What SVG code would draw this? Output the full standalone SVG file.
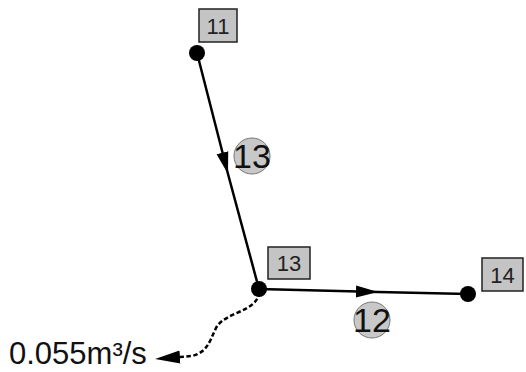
<svg xmlns="http://www.w3.org/2000/svg" width="526" height="372" viewBox="0 0 526 372">
<style>
.edge{fill:none;stroke:#000;stroke-width:2.5}
.flow{fill:none;stroke:#000;stroke-width:2.5;stroke-dasharray:4.5 2.5}
.dot{fill:#000}
.box{fill:#c4c4c4;stroke:#222;stroke-width:1.5}
.boxt{font-family:"Liberation Sans",Arial,sans-serif;font-size:22px;fill:#222;text-anchor:middle}
.lbl{fill:#c8c8c8;stroke:#777;stroke-width:1}
.lblt{font-family:"Liberation Sans",Arial,sans-serif;font-size:34px;fill:#111;text-anchor:middle}
.flowt{font-family:"Liberation Sans",Arial,sans-serif;font-size:31px;fill:#111}
</style>
<defs>
<marker id="arr" markerUnits="userSpaceOnUse" markerWidth="26" markerHeight="16" viewBox="0 -8 26 16" refX="22" refY="0" orient="auto">
<path d="M0,-6 L22,0 L0,6 z" fill="#000"/>
</marker>
<marker id="arrEnd" markerUnits="userSpaceOnUse" markerWidth="28" markerHeight="16" viewBox="0 -8 28 16" refX="0" refY="0" orient="auto">
<path d="M0,-6.5 L25,0 L0,6.5 z" fill="#000"/>
</marker>
</defs>
<g id="connectors">
<path class="edge" d="M197,53 L228,174 L259,289" marker-mid="url(#arr)"/>
<path class="edge" d="M259,289 L378,292 L468,294" marker-mid="url(#arr)"/>
<path class="flow" d="M259,292 C258,312 224,312 216,328 C209,343 207,352 192,356 L180,357" marker-end="url(#arrEnd)"/>
</g>
<g id="edge-label-13">
<circle class="lbl" cx="252" cy="156" r="18"/>
<text class="lblt" x="252" y="168">13</text>
</g>
<g id="edge-label-12">
<circle class="lbl" cx="372" cy="320" r="18"/>
<text class="lblt" x="372" y="332">12</text>
</g>
<g id="node-11">
<circle class="dot" cx="197" cy="53" r="8"/>
<rect class="box" x="199" y="9" width="38" height="33"/>
<text class="boxt" x="218" y="33.5">11</text>
</g>
<g id="node-13">
<circle class="dot" cx="259" cy="289" r="8"/>
<rect class="box" x="268" y="247" width="42" height="32"/>
<text class="boxt" x="289" y="271">13</text>
</g>
<g id="node-14">
<circle class="dot" cx="468" cy="294" r="8"/>
<rect class="box" x="482" y="258" width="41" height="33"/>
<text class="boxt" x="502.5" y="282.5">14</text>
</g>
<g id="flow-label">
<text class="flowt" x="9" y="364">0.055m³/s</text>
</g>
</svg>
